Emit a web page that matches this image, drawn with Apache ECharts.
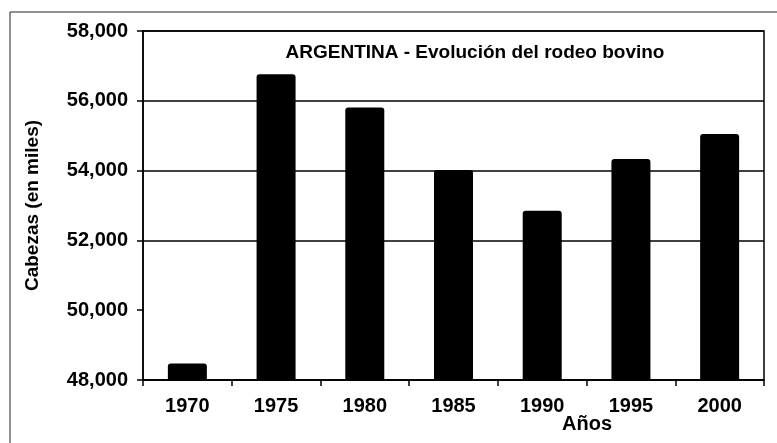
<!DOCTYPE html>
<html>
<head>
<meta charset="utf-8">
<script src="https://cdn.jsdelivr.net/npm/echarts@6/dist/echarts.min.js"></script>
<style>html,body{margin:0;padding:0;background:#fff}#c{width:777px;height:443px}</style>
</head>
<body>
<div id="c"></div>
<script>
const categories = ['1970','1975','1980','1985','1990','1995','2000'];
const values = [48470, 56760, 55810, 54020, 52850, 54330, 55050];
const yTicks = [48000, 50000, 52000, 54000, 56000, 58000];
const titleText = 'ARGENTINA - Evolución del rodeo bovino';
const yName = 'Cabezas (en miles)';
const xName = 'Años';

const chart = echarts.init(document.getElementById('c'), null, {renderer: 'canvas'});
const font = '"Liberation Sans", Arial, sans-serif';
chart.setOption({
  animation: false,
  backgroundColor: '#fff',
  title: {
    text: titleText,
    left: 470, top: 38, textAlign: 'center',
    textStyle: {fontFamily: font, fontWeight: 'bold', fontSize: 19, color: '#000'}
  },
  graphic: [
    {type: 'rect', shape: {x: 10, y: 12, width: 800, height: 500},
     style: {fill: 'none', stroke: '#222', lineWidth: 1}, silent: true, z: -1},
    {type: 'text', left: 562, top: 414,
     style: {text: xName, fontFamily: font, fontWeight: 'bold', fontSize: 20, fill: '#000'}}
  ],
  grid: {left: 143, top: 31, right: 13, bottom: 63, show: true, borderColor: '#000', borderWidth: 1.5, backgroundColor: 'transparent'},
  xAxis: {
    type: 'category', data: categories,
    axisLine: {lineStyle: {color: '#000', width: 1.5}},
    axisTick: {show: true, length: 6, alignWithLabel: false, lineStyle: {color: '#000', width: 1.5}},
    axisLabel: {color: '#000', fontFamily: font, fontWeight: 'bold', fontSize: 20, margin: 16}
  },
  yAxis: {
    type: 'value', min: yTicks[0], max: yTicks[yTicks.length - 1], interval: 2000,
    name: yName, nameLocation: 'middle', nameGap: 101, nameRotate: 90,
    nameTextStyle: {color: '#000', fontFamily: font, fontWeight: 'bold', fontSize: 19},
    axisLine: {show: true, lineStyle: {color: '#000', width: 1.5}},
    axisTick: {show: true, length: 6, lineStyle: {color: '#000', width: 1.5}},
    axisLabel: {color: '#000', fontFamily: font, fontWeight: 'bold', fontSize: 20, margin: 15,
      formatter: v => v.toLocaleString('en-US')},
    splitLine: {show: true, lineStyle: {color: ['#000', 'rgba(0,0,0,0)', '#000', '#000', '#000', '#000'], width: 1.5}}
  },
  series: [{
    type: 'bar', data: values, barWidth: 39,
    itemStyle: {color: '#000', borderRadius: [3, 3, 0, 0]}
  }]
});
</script>
</body>
</html>
